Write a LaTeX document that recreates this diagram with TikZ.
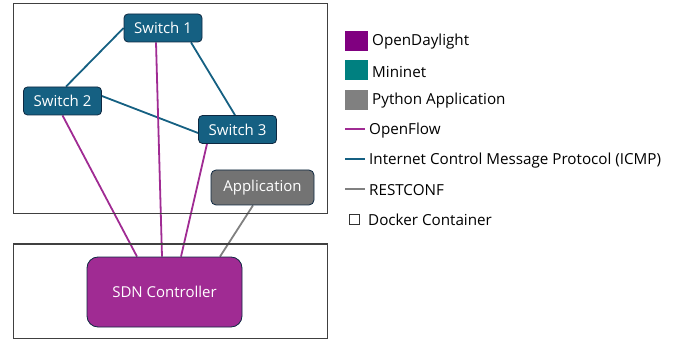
\documentclass[tikz,border=0pt]{standalone}
\usepackage{fontspec}
\setmainfont{Open Sans}
\usetikzlibrary{backgrounds}
\definecolor{swfill}{HTML}{156082}
\definecolor{swdraw}{HTML}{0E2841}
\definecolor{ctlfill}{HTML}{A02B93}
\definecolor{appfill}{HTML}{737373}
\definecolor{odl}{HTML}{800080}
\definecolor{mn}{HTML}{008080}
\definecolor{py}{HTML}{808080}
\definecolor{restc}{HTML}{808080}
\begin{document}
\begin{tikzpicture}[x=1pt,y=-1pt,
  container/.style={draw=black!75,line width=1pt},
  switchbox/.style={draw=swdraw,fill=swfill,text=white,rounded corners=4pt,line width=0.8pt,minimum width=78pt,minimum height=28pt,inner sep=0pt,font=\fontsize{15}{17}\selectfont},
  appbox/.style={draw=swdraw,fill=appfill,text=white,rounded corners=5pt,line width=0.8pt,minimum width=103pt,minimum height=35pt,inner sep=0pt,font=\fontsize{15}{17}\selectfont},
  ctlbox/.style={draw=swdraw,fill=ctlfill,text=white,rounded corners=11pt,line width=0.8pt,minimum width=155pt,minimum height=70pt,inner sep=0pt,font=\fontsize{15}{17}\selectfont},
  icmp/.style={draw=swfill,line width=1.8pt},
  oflow/.style={draw=ctlfill,line width=1.8pt},
  rest/.style={draw=restc,line width=1.8pt},
  legtext/.style={anchor=west,inner sep=0pt,font=\fontsize{15.2}{17}\selectfont},
  legsq/.style={minimum width=23pt,minimum height=20pt,inner sep=0pt,draw=none}
]
\useasboundingbox (0,0) rectangle (688,339);
% containers
\draw[container] (13,4) rectangle (327,214);
\draw[container] (13,244) rectangle (327,338);
% nodes
\node[switchbox] (s1) at (163,28) {Switch 1};
\node[switchbox] (s2) at (62.5,101) {Switch 2};
\node[switchbox] (s3) at (237.5,129.5) {Switch 3};
\node[appbox] (app) at (262.5,187.5) {Application};
\node[ctlbox] (ctl) at (164.5,292) {SDN Controller};
% connectors
\begin{scope}[on background layer]
\draw[icmp] (s1.west) -- ([xshift=3.5pt]s2.north);
\draw[icmp] ([xshift=28pt]s1.south) -- ([xshift=-2.5pt]s3.north);
\draw[icmp] ([yshift=5pt]s2.east) -- ([yshift=-3.5pt]s3.west);
\draw[oflow] (s2.south) -- ([xshift=-27.5pt]ctl.north);
\draw[oflow] ([xshift=-7pt]s1.south) -- ([xshift=-2.5pt]ctl.north);
\draw[oflow] ([xshift=-30.5pt]s3.south) -- ([xshift=16.5pt]ctl.north);
\draw[rest] ([xshift=-9.5pt]app.south) -- ([xshift=55.5pt]ctl.north);
\end{scope}
% legend
\node[legsq,fill=odl] (l1) at (356.5,41) {};
\node[legtext] (t1) at (372,42) {OpenDaylight};
\node[legsq,fill=mn] (l2) at (356.5,70.5) {};
\node[legtext] (t2) at (372,71.5) {Mininet};
\node[legsq,fill=py] (l3) at (356.5,100) {};
\node[legtext] (t3) at (372,101) {Python Application};
\coordinate (o1) at (345,129);
\coordinate (o2) at (365,129);
\draw[oflow] (o1) -- (o2);
\node[legtext] (t4) at (369,131) {OpenFlow};
\coordinate (i1) at (345,159);
\coordinate (i2) at (365,159);
\draw[icmp] (i1) -- (i2);
\node[legtext] (t5) at (369,161) {Internet Control Message Protocol (ICMP)};
\coordinate (r1) at (345,189);
\coordinate (r2) at (365,189);
\draw[rest] (r1) -- (r2);
\node[legtext] (t6) at (369,190) {RESTCONF};
\node[draw=black!80,line width=0.6pt,minimum width=10pt,minimum height=10pt,inner sep=0pt] (l7) at (354.5,219.5) {};
\node[legtext] (t7) at (368,220) {Docker Container};
\end{tikzpicture}
\end{document}
